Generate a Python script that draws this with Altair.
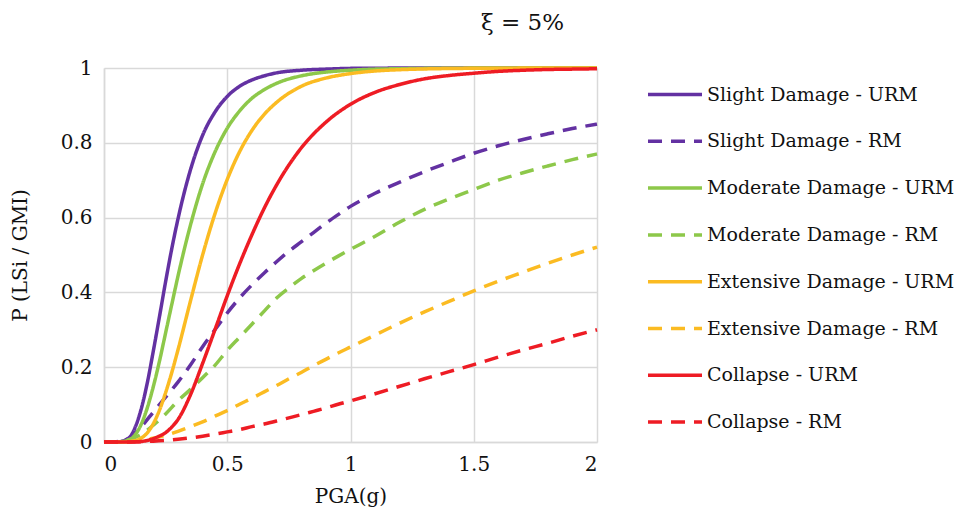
import altair as alt
import pandas as pd

# PGA grid for the URM (solid) curves
pga_urm = [0, 0.05, 0.1, 0.125, 0.15, 0.175, 0.2, 0.225, 0.25, 0.275, 0.3, 0.35, 0.4, 0.45,
           0.5, 0.55, 0.6, 0.65, 0.7, 0.8, 0.9, 1.0, 1.1, 1.2, 1.3, 1.4, 1.5, 1.6, 1.7, 1.8, 1.9, 2.0]
slight_urm = [0, 0.0, 0.010, 0.037, 0.086, 0.156, 0.243, 0.335, 0.429, 0.517, 0.596, 0.726, 0.820, 0.882,
              0.924, 0.951, 0.968, 0.979, 0.987, 0.994, 0.997, 0.999, 0.9995, 0.9998, 1.0, 1.0, 1.0, 1.0, 1.0, 1.0, 1.0, 1.0]
moderate_urm = [0, 0.0, 0.005, 0.018, 0.046, 0.090, 0.148, 0.216, 0.292, 0.368, 0.443, 0.578, 0.690, 0.775,
                0.839, 0.885, 0.919, 0.942, 0.959, 0.979, 0.989, 0.994, 0.997, 0.998, 0.999, 0.9995, 0.9997, 0.9998, 0.9999, 1.0, 1.0, 1.0]
extensive_urm = [0, 0.0, 0.0005, 0.003, 0.010, 0.024, 0.049, 0.085, 0.132, 0.186, 0.246, 0.375, 0.500, 0.610,
                 0.702, 0.776, 0.833, 0.876, 0.908, 0.951, 0.973, 0.985, 0.992, 0.9955, 0.9975, 0.9986, 0.9992, 0.9995, 0.9997, 0.9998, 0.9999, 0.9999]
collapse_urm = [0, 0.0, 0.0, 0.0003, 0.0013, 0.004, 0.009, 0.016, 0.025, 0.040, 0.060, 0.125, 0.210, 0.300,
                0.391, 0.476, 0.554, 0.625, 0.687, 0.786, 0.855, 0.903, 0.935, 0.956, 0.971, 0.980, 0.986, 0.991, 0.994, 0.996, 0.997, 0.998]

# PGA grid for the RM (dashed) curves
pga_rm = [0, 0.05, 0.1, 0.15, 0.2, 0.25, 0.3, 0.35, 0.4, 0.45, 0.5, 0.55, 0.6, 0.65, 0.7, 0.75, 0.8,
          0.85, 0.9, 0.95, 1.0, 1.1, 1.2, 1.3, 1.4, 1.5, 1.6, 1.7, 1.8, 1.9, 2.0]
slight_rm = [0, 0.001, 0.010, 0.040, 0.080, 0.120, 0.160, 0.205, 0.255, 0.300, 0.345, 0.385, 0.420, 0.452,
             0.482, 0.510, 0.535, 0.560, 0.585, 0.608, 0.630, 0.665, 0.695, 0.723, 0.748, 0.772, 0.792, 0.809, 0.824, 0.838, 0.850]
moderate_rm = [0, 0.0005, 0.006, 0.020, 0.045, 0.075, 0.110, 0.140, 0.172, 0.205, 0.245, 0.280, 0.315, 0.350,
               0.385, 0.412, 0.437, 0.458, 0.478, 0.497, 0.515, 0.550, 0.588, 0.622, 0.650, 0.675, 0.700, 0.720, 0.738, 0.755, 0.770]
extensive_rm = [0, 0.0, 0.0012, 0.0044, 0.010, 0.018, 0.0285, 0.041, 0.054, 0.069, 0.084, 0.101, 0.117, 0.134,
                0.151, 0.169, 0.186, 0.204, 0.221, 0.238, 0.254, 0.286, 0.318, 0.348, 0.376, 0.404, 0.430, 0.454, 0.478, 0.500, 0.521]
collapse_rm = [0, 0.0, 0.0002, 0.0008, 0.0021, 0.0042, 0.0072, 0.011, 0.0156, 0.021, 0.027, 0.033, 0.041, 0.048,
               0.056, 0.0645, 0.073, 0.082, 0.091, 0.101, 0.110, 0.129, 0.149, 0.169, 0.188, 0.207, 0.227, 0.246, 0.264, 0.283, 0.300]

series_names = ["Slight Damage - URM", "Slight Damage - RM",
                "Moderate Damage - URM", "Moderate Damage - RM",
                "Extensive Damage - URM", "Extensive Damage - RM",
                "Collapse - URM", "Collapse - RM"]
series_colors = ["#6331a2", "#6331a2", "#8dc84a", "#8dc84a",
                 "#fbbb22", "#fbbb22", "#ee1c24", "#ee1c24"]
series_dashes = [[1, 0], [14, 9], [1, 0], [14, 9], [1, 0], [14, 9], [1, 0], [14, 9]]

series_data = [
    (series_names[0], pga_urm, slight_urm),
    (series_names[1], pga_rm, slight_rm),
    (series_names[2], pga_urm, moderate_urm),
    (series_names[3], pga_rm, moderate_rm),
    (series_names[4], pga_urm, extensive_urm),
    (series_names[5], pga_rm, extensive_rm),
    (series_names[6], pga_urm, collapse_urm),
    (series_names[7], pga_rm, collapse_rm),
]

rows = []
for name, xs, ys in series_data:
    for i, (x, y) in enumerate(zip(xs, ys)):
        rows.append({"series": name, "pga": x, "p": y, "idx": i})
df = pd.DataFrame(rows)

FONT = "DejaVu Serif"
GRID = "#d9d9d9"

legend_cfg = dict(
    title=None, orient="none", legendX=542, legendY=11,
    symbolType="M-1,0H3", symbolSize=729, symbolStrokeWidth=3.5,
    labelFont=FONT, labelFontSize=19, labelColor="#111111", labelOffset=30,
    labelLimit=0, rowPadding=20.8, padding=0,
)

chart = alt.Chart(df).mark_line(strokeWidth=3.5, interpolate="monotone").encode(
    x=alt.X("pga:Q",
            scale=alt.Scale(domain=[0, 2], nice=False),
            axis=alt.Axis(values=[0, 0.5, 1, 1.5, 2], format="~g", title="PGA(g)",
                          labelFont=FONT, labelFontSize=20, labelColor="#111111",
                          labelPadding=12, ticks=False, domainColor=GRID, domainWidth=1.5,
                          gridColor=GRID, gridWidth=1.5,
                          titleFont=FONT, titleFontSize=20, titleFontWeight="normal",
                          titleColor="#111111", titlePadding=12)),
    y=alt.Y("p:Q",
            scale=alt.Scale(domain=[0, 1], nice=False),
            axis=alt.Axis(values=[0, 0.2, 0.4, 0.6, 0.8, 1], format="~g", title="P (LSi / GMI)",
                          labelFont=FONT, labelFontSize=20, labelColor="#111111",
                          labelPadding=12, ticks=False, domainColor=GRID, domainWidth=1.5,
                          gridColor=GRID, gridWidth=1.5,
                          titleFont=FONT, titleFontSize=20, titleFontWeight="normal",
                          titleColor="#111111", titlePadding=30)),
    color=alt.Color("series:N",
                    scale=alt.Scale(domain=series_names, range=series_colors),
                    legend=alt.Legend(**legend_cfg)),
    strokeDash=alt.StrokeDash("series:N",
                              scale=alt.Scale(domain=series_names, range=series_dashes),
                              legend=alt.Legend(**legend_cfg)),
    order="idx:Q",
).properties(
    width=493, height=374,
    title=alt.TitleParams("ξ = 5%", font=FONT, fontSize=23, fontWeight="normal",
                          color="#111111", anchor="middle", dx=172, offset=0, baseline="bottom"),
    autosize=alt.AutoSizeParams(type="none"),
    padding={"left": 104, "top": 68, "right": 366, "bottom": 78},
).configure_view(stroke=None)

chart.save("out.html", embed_options={"renderer": "svg", "actions": False})
